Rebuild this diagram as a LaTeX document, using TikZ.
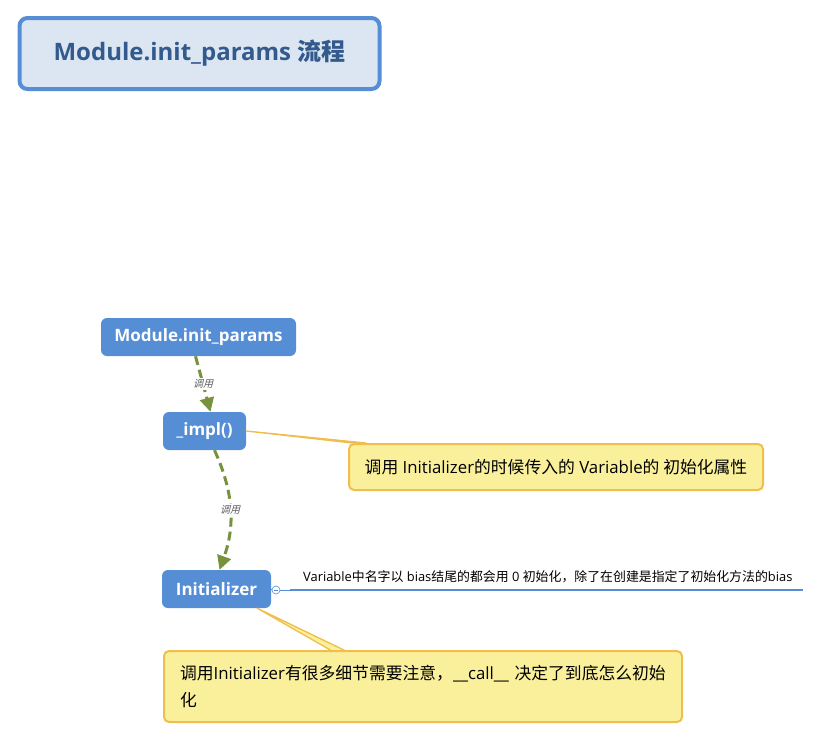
\documentclass[tikz,border=0pt]{standalone}
\usepackage{fontspec}
\setmainfont{Open Sans}
\newfontfamily\cjk{Noto Sans CJK SC}
\newfontfamily\cjkit[FakeSlant=0.25]{Noto Sans CJK SC}
\usetikzlibrary{arrows.meta}

\definecolor{topicblue}{RGB}{85,142,213}
\definecolor{titlefill}{RGB}{220,230,242}
\definecolor{titletext}{RGB}{50,90,140}
\definecolor{notefill}{RGB}{250,240,156}
\definecolor{noteline}{RGB}{240,190,77}
\definecolor{callgreen}{RGB}{118,146,60}
\definecolor{labelgrey}{RGB}{95,95,95}

\tikzset{
  topic/.style={rectangle, rounded corners=6pt, fill=topicblue, text=white,
    font=\bfseries\fontsize{17}{20}\selectfont, minimum height=38pt, inner sep=0pt},
  notebox/.style={rectangle, rounded corners=5pt, fill=notefill, draw=noteline,
    line width=2pt, text=black, font=\fontsize{16.8}{27}\selectfont},
  callarrow/.style={draw=callgreen, line width=3pt, dash pattern=on 9pt off 5pt,
    -{Triangle[length=14pt,width=14pt]}},
  calllabel/.style={fill=white, text=labelgrey, inner sep=1pt,
    font=\cjkit\fontsize{10}{12}\selectfont},
  wedge/.style={fill=notefill, draw=noteline, line width=1.3pt, line join=round}
}

\begin{document}
\begin{tikzpicture}[x=1pt, y=-1pt]
\useasboundingbox (0,0) rectangle (821,739);

\node (title)[rectangle, rounded corners=8pt, fill=titlefill, draw=topicblue, line width=4pt,
  text=titletext, font=\bfseries\fontsize{24}{28}\selectfont,
  minimum width=360pt, minimum height=71pt] at (199.5,53.5) {Module.init\_params {\cjk 流程}};

\node (mod)[topic, minimum width=195pt] at (198.5,337) {Module.init\_params};
\node (impl)[topic, minimum width=83pt] at (204.5,431) {\_impl()};
\node (init)[topic, minimum width=109pt] at (216.5,589) {Initializer};

% callouts
\coordinate (w1a) at (352,443);
\coordinate (w1b) at (366,443);
\draw [wedge] (impl.east) -- (w1a) -- (w1b) -- cycle;
\coordinate (w2a) at (332,651);
\coordinate (w2b) at (346,651);
\draw [wedge] ([xshift=-14pt]init.south east) -- (w2a) -- (w2b) -- cycle;

\node (noteImpl)[notebox, minimum width=414pt, minimum height=46pt] at (556,467)
  {{\cjk 调用} Initializer{\cjk 的时候传入的} Variable{\cjk 的 初始化属性}};
\node (noteInit)[notebox, anchor=north west, minimum width=518pt, minimum height=71pt,
  text width=486pt, align=left, inner xsep=16pt, inner ysep=6pt] at (163,650)
  {{\cjk 调用}Initializer{\cjk 有很多细节需要注意，}\_\_call\_\_ {\cjk 决定了到底怎么初始}\\{\cjk 化}};

% calls
\draw [callarrow] ([xshift=-3pt]mod.south) -- node (call1)[calllabel] {调用}
  ([xshift=6pt]impl.north);
\draw [callarrow] ([xshift=10pt]impl.south) to[bend left=22] node (call2)[calllabel] {调用}
  ([xshift=3pt]init.north);

% bias branch
\node (fold)[circle, draw=topicblue, fill=white, line width=0.6pt, minimum size=8pt,
  inner sep=0pt] at (276,590) {};
\draw [topicblue, line width=0.6pt] (fold.west) ++(2pt,0) -- ++(4pt,0);
\coordinate (biasStart) at (290,590);
\coordinate (biasEnd) at (803,590);
\draw [topicblue, line width=0.8pt] (init.east) -- (fold.west);
\draw [topicblue, line width=0.8pt] (fold.east) -- (biasStart);
\draw [topicblue, line width=2.5pt] (biasStart) -- (biasEnd);
\node (biasLabel)[anchor=south west, inner sep=0pt, font=\fontsize{12.9}{15}\selectfont]
  at (303,583) {Variable{\cjk 中名字以} bias{\cjk 结尾的都会用} 0 {\cjk 初始化，除了在创建是指定了初始化方法的}bias};
\end{tikzpicture}
\end{document}
